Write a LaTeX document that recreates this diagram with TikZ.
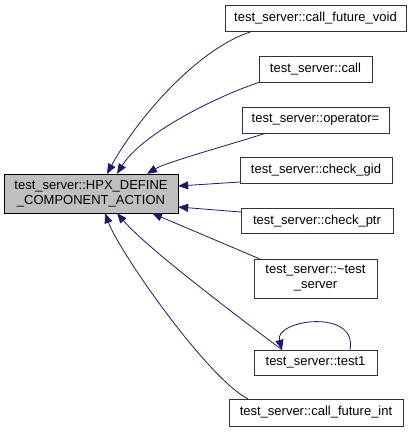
\documentclass[tikz,border=0pt]{standalone}
\usepackage{fontspec}
\setmainfont{Liberation Sans}
\usetikzlibrary{arrows.meta}
\definecolor{edgeblue}{HTML}{191970}
\definecolor{boxgray}{HTML}{BFBFBF}
\tikzset{
  funcbox/.style={draw=black!80, fill=white, align=center, inner sep=1pt,
    font=\fontsize{13}{15}\selectfont, minimum height=26pt},
  mainbox/.style={funcbox, fill=boxgray, draw=black, minimum height=39pt},
  callarrow/.style={-{Triangle[length=10pt,width=8pt]}, edgeblue, line width=0.8pt}
}

\begin{document}
\begin{tikzpicture}[x=1pt,y=-1pt]
    \useasboundingbox (0,0) rectangle (412,432);
    \node[mainbox, minimum width=174pt] (main) at (91,193.5) {test\_server::HPX\_DEFINE\\\_COMPONENT\_ACTION};
    \node[funcbox, minimum width=181pt] (cfv) at (315.5,18) {test\_server::call\_future\_void};
    \node[funcbox, minimum width=113pt] (call) at (315.5,69) {test\_server::call};
    \node[funcbox, minimum width=147pt] (opeq) at (315.5,120) {test\_server::operator=};
    \node[funcbox, minimum width=152pt] (gid) at (316,170) {test\_server::check\_gid};
    \node[funcbox, minimum width=152pt, minimum height=25pt] (ptr) at (317,221) {test\_server::check\_ptr};
    \node[funcbox, minimum width=123pt, minimum height=39pt] (dtor) at (315.5,278.5) {test\_server::\textasciitilde test\\\_server};
    \node[funcbox, minimum width=123pt, minimum height=25pt] (test1) at (315.5,362.5) {test\_server::test1};
    \node[funcbox, minimum width=174pt, minimum height=27pt] (cfi) at (316,412.5) {test\_server::call\_future\_int};
    \draw[callarrow] ([xshift=-63pt]cfv.south) .. controls +(-55,17) and +(30,-55) .. ([xshift=16pt]main.north);
    \draw[callarrow] ([xshift=-56pt]call.south) .. controls +(-45,15) and +(25,-40) .. ([xshift=26pt]main.north);
    \draw[callarrow] ([xshift=-50pt]opeq.south) .. controls +(-30,10) and +(20,-12) .. ([xshift=56pt]main.north);
    \draw[callarrow] ([yshift=-12pt]gid.west) -- ([yshift=7.5pt]main.east);
    \draw[callarrow] ([yshift=9pt]ptr.west) -- ([yshift=-13.5pt]main.east);
    \draw[callarrow] ([xshift=-56pt]dtor.north) -- ([xshift=61pt]main.south);
    \draw[callarrow] ([xshift=-33.5pt]test1.north) .. controls +(-40,-30) and +(30,35) .. ([xshift=26pt]main.south);
    \draw[callarrow] ([xshift=-68pt]cfi.north) .. controls +(-40,-20) and +(15,40) .. ([xshift=14pt]main.south);
    \draw[callarrow] ([xshift=34.5pt]test1.north) .. controls +(8,-42) and +(-8,-30) .. ([xshift=-33.5pt]test1.north);
\end{tikzpicture}
\end{document}
